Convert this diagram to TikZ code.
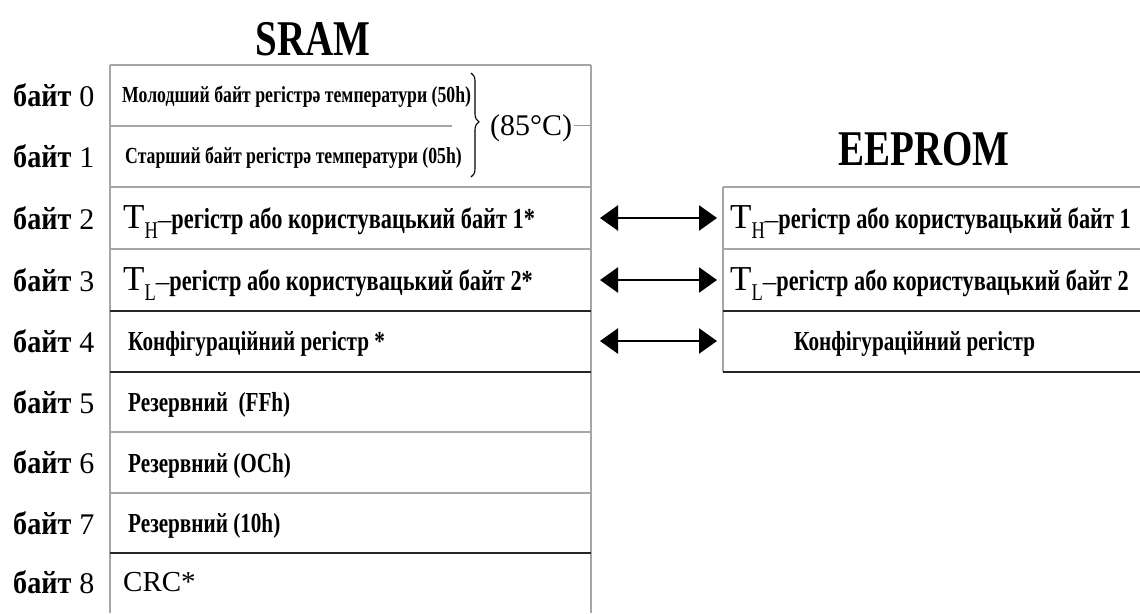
\documentclass[tikz,border=0pt]{standalone}
\usepackage{fontspec}
\setmainfont{Liberation Serif}
\newfontfamily\cndf{Liberation Serif}[FakeStretch=0.77]
\newfontfamily\lblf{Liberation Serif}[FakeStretch=0.88]
\newfontfamily\ttlf{Liberation Serif}[FakeStretch=0.78]
\usetikzlibrary{arrows.meta,decorations.pathreplacing}
\newcommand\bytelabel[1]{{\lblf\bfseries\fontsize{32}{34}\selectfont байт}\hspace{8pt}{\fontsize{30}{32}\selectfont #1}}
\newcommand\cellsmall{\cndf\bfseries\fontsize{23}{25}\selectfont}
\newcommand\cellmid{\cndf\bfseries\fontsize{27.5}{29}\selectfont}
\newcommand\cellbig{\cndf\bfseries\fontsize{29}{31}\selectfont}
\newcommand\THsub[1]{{\fontsize{35}{37}\selectfont T}\raisebox{-10pt}{\cndf\fontsize{24}{26}\selectfont #1}{\fontsize{27}{29}\selectfont –}}
\begin{document}
\begin{tikzpicture}[x=1pt,y=-1pt,
  gridline/.style={draw=gray!70,line width=1.3pt},
  darkline/.style={draw=black!85,line width=1.4pt},
  bytelbl/.style={anchor=base west,inner sep=0pt},
  celltext/.style={anchor=base west,inner sep=0pt},
  memtitle/.style={anchor=base,inner sep=0pt,font=\ttlf\bfseries\fontsize{50}{52}\selectfont},
  biarrow/.style={line width=2.6pt,{Triangle[length=18pt,width=25pt]}-{Triangle[length=18pt,width=25pt]},shorten <=9pt,shorten >=6pt}]
\useasboundingbox[fill=white] (0,0) rectangle (1140,613);

% titles
\node[memtitle] (sram) at (313,55) {SRAM};
\node[memtitle] (eeprom) at (924,165) {EEPROM};

% SRAM grid
\draw[gridline] (110,65) -- (591,65);
\draw[gridline] (110,65) -- (110,613);
\draw[gridline] (591,65) -- (591,613);
\draw[gridline] (110,126) -- (452,126);
\draw[gridline] (110,187) -- (591,187);
\draw[gridline] (110,249) -- (591,249);
\draw[darkline] (110,311) -- (591,311);
\draw[darkline] (110,372) -- (591,372);
\draw[gridline] (110,432) -- (591,432);
\draw[gridline] (110,493) -- (591,493);
\draw[darkline] (110,553) -- (591,553);

% EEPROM grid
\draw[gridline] (723,187) -- (1140,187);
\draw[gridline] (723,187) -- (723,372);
\draw[gridline] (723,249) -- (1140,249);
\draw[darkline] (723,311) -- (1140,311);
\draw[darkline] (723,372) -- (1140,372);

% byte labels
\node[bytelbl] (l0) at (13,106) {\bytelabel{0}};
\node[bytelbl] (l1) at (13,167) {\bytelabel{1}};
\node[bytelbl] (l2) at (13,229) {\bytelabel{2}};
\node[bytelbl] (l3) at (13,291) {\bytelabel{3}};
\node[bytelbl] (l4) at (13,352) {\bytelabel{4}};
\node[bytelbl] (l5) at (13,413) {\bytelabel{5}};
\node[bytelbl] (l6) at (13,473) {\bytelabel{6}};
\node[bytelbl] (l7) at (13,534) {\bytelabel{7}};
\node[bytelbl] (l8) at (13,593) {\bytelabel{8}};

% SRAM cells
\node[celltext] (t0) at (122,102) {\cellsmall Молодший байт регістрә температури (50h)};
\node[celltext] (t1) at (125,163) {\cellsmall Старший байт регістрә температури (05h)};
\node[celltext] (t2) at (123,228) {\THsub{H}\cellbig регістр або користувацький байт 1*};
\node[celltext] (t3) at (123,290) {\THsub{L}\cellbig регістр або користувацький байт 2*};
\node[celltext] (t4) at (128,350) {\cellmid Конфігураційний регістр *};
\node[celltext] (t5) at (128,411) {\cellmid Резервний\ \ (FFh)};
\node[celltext] (t6) at (128,472) {\cellmid Резервний (OCh)};
\node[celltext] (t7) at (128,532) {\cellmid Резервний (10h)};
\node[celltext] (t8) at (123,591) {\fontsize{29}{31}\selectfont CRC*};

% brace and temperature
\draw[line width=1.1pt,decorate,decoration={brace,amplitude=8pt,aspect=0.47}] (471,73) -- (471,177);
\node[celltext] (t85) at (490,135) {\fontsize{30}{32}\selectfont (85°C)};
\coordinate (br) at (591,125);
\draw[line width=1pt,gray!80,shorten <=2pt] (t85.east |- br) -- (br);

% EEPROM cells
\node[celltext] (e2) at (730,228) {\THsub{H}\cellbig регістр або користувацький байт 1};
\node[celltext] (e3) at (730,290) {\THsub{L}\cellbig регістр або користувацький байт 2};
\node[celltext] (e4) at (794,350) {\cellmid Конфігураційний регістр};

% arrows
\coordinate (s2) at (591,218); \coordinate (r2) at (723,218);
\coordinate (s3) at (591,280); \coordinate (r3) at (723,280);
\coordinate (s4) at (591,341); \coordinate (r4) at (723,341);
\draw[biarrow] (s2) -- (r2);
\draw[biarrow] (s3) -- (r3);
\draw[biarrow] (s4) -- (r4);
\end{tikzpicture}
\end{document}
